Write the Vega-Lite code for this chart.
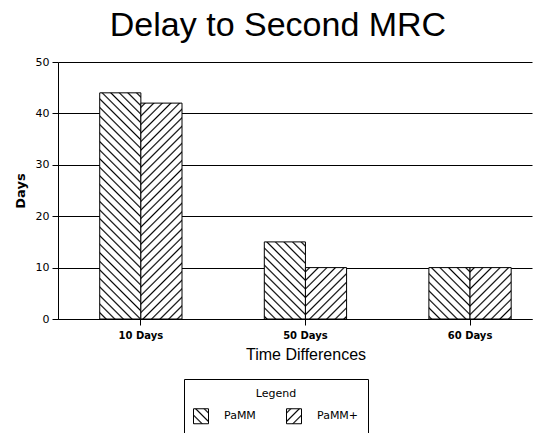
{
  "$schema": "https://vega.github.io/schema/vega-lite/v6.json",
  "autosize": {"type": "none"},
  "padding": {"left": 58, "top": 62, "right": 11, "bottom": 114},
  "width": 474,
  "height": 257,
  "background": "white",
  "title": {
    "text": "Delay to Second MRC",
    "font": "Liberation Sans",
    "fontSize": 34,
    "fontWeight": "normal",
    "color": "black",
    "anchor": "middle",
    "frame": "group",
    "dx": -17,
    "offset": 13
  },
  "params": [
    {
      "name": "stripes",
      "value": [
        {"offset": 0, "color": "#fff"},
        {"offset": 0.010, "color": "#fff"}, {"offset": 0.016, "color": "#000"}, {"offset": 0.022, "color": "#fff"},
        {"offset": 0.042, "color": "#fff"}, {"offset": 0.048, "color": "#000"}, {"offset": 0.054, "color": "#fff"},
        {"offset": 0.074, "color": "#fff"}, {"offset": 0.080, "color": "#000"}, {"offset": 0.086, "color": "#fff"},
        {"offset": 0.106, "color": "#fff"}, {"offset": 0.112, "color": "#000"}, {"offset": 0.118, "color": "#fff"},
        {"offset": 0.138, "color": "#fff"}, {"offset": 0.144, "color": "#000"}, {"offset": 0.150, "color": "#fff"},
        {"offset": 0.170, "color": "#fff"}, {"offset": 0.176, "color": "#000"}, {"offset": 0.182, "color": "#fff"},
        {"offset": 0.202, "color": "#fff"}, {"offset": 0.208, "color": "#000"}, {"offset": 0.214, "color": "#fff"},
        {"offset": 0.234, "color": "#fff"}, {"offset": 0.240, "color": "#000"}, {"offset": 0.246, "color": "#fff"},
        {"offset": 0.266, "color": "#fff"}, {"offset": 0.272, "color": "#000"}, {"offset": 0.278, "color": "#fff"},
        {"offset": 0.298, "color": "#fff"}, {"offset": 0.304, "color": "#000"}, {"offset": 0.310, "color": "#fff"},
        {"offset": 0.330, "color": "#fff"}, {"offset": 0.336, "color": "#000"}, {"offset": 0.342, "color": "#fff"},
        {"offset": 0.362, "color": "#fff"}, {"offset": 0.368, "color": "#000"}, {"offset": 0.374, "color": "#fff"},
        {"offset": 0.394, "color": "#fff"}, {"offset": 0.400, "color": "#000"}, {"offset": 0.406, "color": "#fff"},
        {"offset": 0.426, "color": "#fff"}, {"offset": 0.432, "color": "#000"}, {"offset": 0.438, "color": "#fff"},
        {"offset": 0.458, "color": "#fff"}, {"offset": 0.464, "color": "#000"}, {"offset": 0.470, "color": "#fff"},
        {"offset": 0.490, "color": "#fff"}, {"offset": 0.496, "color": "#000"}, {"offset": 0.502, "color": "#fff"},
        {"offset": 0.522, "color": "#fff"}, {"offset": 0.528, "color": "#000"}, {"offset": 0.534, "color": "#fff"},
        {"offset": 0.554, "color": "#fff"}, {"offset": 0.560, "color": "#000"}, {"offset": 0.566, "color": "#fff"},
        {"offset": 0.586, "color": "#fff"}, {"offset": 0.592, "color": "#000"}, {"offset": 0.598, "color": "#fff"},
        {"offset": 0.618, "color": "#fff"}, {"offset": 0.624, "color": "#000"}, {"offset": 0.630, "color": "#fff"},
        {"offset": 0.650, "color": "#fff"}, {"offset": 0.656, "color": "#000"}, {"offset": 0.662, "color": "#fff"},
        {"offset": 0.682, "color": "#fff"}, {"offset": 0.688, "color": "#000"}, {"offset": 0.694, "color": "#fff"},
        {"offset": 0.714, "color": "#fff"}, {"offset": 0.720, "color": "#000"}, {"offset": 0.726, "color": "#fff"},
        {"offset": 0.746, "color": "#fff"}, {"offset": 0.752, "color": "#000"}, {"offset": 0.758, "color": "#fff"},
        {"offset": 0.778, "color": "#fff"}, {"offset": 0.784, "color": "#000"}, {"offset": 0.790, "color": "#fff"},
        {"offset": 0.810, "color": "#fff"}, {"offset": 0.816, "color": "#000"}, {"offset": 0.822, "color": "#fff"},
        {"offset": 0.842, "color": "#fff"}, {"offset": 0.848, "color": "#000"}, {"offset": 0.854, "color": "#fff"},
        {"offset": 0.874, "color": "#fff"}, {"offset": 0.880, "color": "#000"}, {"offset": 0.886, "color": "#fff"},
        {"offset": 0.906, "color": "#fff"}, {"offset": 0.912, "color": "#000"}, {"offset": 0.918, "color": "#fff"},
        {"offset": 0.938, "color": "#fff"}, {"offset": 0.944, "color": "#000"}, {"offset": 0.950, "color": "#fff"},
        {"offset": 0.970, "color": "#fff"}, {"offset": 0.976, "color": "#000"}, {"offset": 0.982, "color": "#fff"},
        {"offset": 1, "color": "#fff"}
      ]
    }
  ],
  "data": {
    "values": [
      {"category": "10 Days", "series": "PaMM", "days": 44},
      {"category": "10 Days", "series": "PaMM+", "days": 42},
      {"category": "50 Days", "series": "PaMM", "days": 15},
      {"category": "50 Days", "series": "PaMM+", "days": 10},
      {"category": "60 Days", "series": "PaMM", "days": 10},
      {"category": "60 Days", "series": "PaMM+", "days": 10}
    ]
  },
  "mark": {
    "type": "bar",
    "strokeWidth": 1,
    "fill": {"expr": "datum.series === 'PaMM' ? {gradient: 'linear', stops: stripes, x1: 1, y1: 0, x2: (datum.days > 40 ? 0.7927 : (datum.days > 12 ? -0.4367 : -1.534)), y2: (datum.days > 40 ? 1.1437 : (datum.days > 12 ? 2.7017 : 3.177))} : datum.series === 'PaMM+' ? {gradient: 'linear', stops: stripes, x1: 0, y1: 0, x2: (datum.days > 40 ? 0.2268 : 2.534), y2: (datum.days > 40 ? 1.1946 : 3.177)} : datum.value === 'PaMM' ? {gradient: 'linear', stops: stripes, x1: 1, y1: 0, x2: -7.9, y2: 8.9} : {gradient: 'linear', stops: stripes, x1: 0, y1: 0, x2: 8.9, y2: 8.9}"}
  },
  "encoding": {
    "x": {
      "field": "category",
      "type": "nominal",
      "sort": null,
      "scale": {"paddingInner": 0.5, "paddingOuter": 0.19, "align": 0.667},
      "axis": {
        "labelAngle": 0,
        "title": "Time Differences",
        "titleX": 247.5,
        "titleAlign": "center",
        "domainColor": "black",
        "tickColor": "black",
        "tickSize": 6,
        "labelFont": "DejaVu Sans",
        "labelFontWeight": "bold",
        "labelFontSize": 10,
        "labelColor": "black",
        "labelPadding": 5,
        "titleFont": "Liberation Sans",
        "titleFontSize": 16,
        "titleFontWeight": "normal",
        "titleColor": "black",
        "titlePadding": 6,
        "grid": false
      }
    },
    "xOffset": {
      "field": "series",
      "type": "nominal",
      "sort": ["PaMM", "PaMM+"],
      "scale": {"paddingInner": 0, "paddingOuter": 0}
    },
    "y": {
      "field": "days",
      "type": "quantitative",
      "scale": {"domain": [0, 50], "nice": false},
      "axis": {
        "values": [0, 10, 20, 30, 40, 50],
        "title": "Days",
        "grid": true,
        "gridColor": "black",
        "gridOpacity": 1,
        "gridWidth": 1,
        "domainColor": "black",
        "tickColor": "black",
        "tickSize": 6,
        "labelFont": "DejaVu Sans",
        "labelFontSize": 11,
        "labelColor": "black",
        "labelPadding": 3,
        "titleFont": "DejaVu Sans",
        "titleFontSize": 13,
        "titleFontWeight": "bold",
        "titleColor": "black",
        "titlePadding": 8
      }
    },
    "stroke": {
      "field": "series",
      "type": "nominal",
      "sort": ["PaMM", "PaMM+"],
      "scale": {"range": ["black", "black"]},
      "legend": {
        "title": "Legend",
        "orient": "none",
        "legendX": 126,
        "legendY": 317,
        "direction": "horizontal",
        "titleAnchor": "middle",
        "titleFont": "DejaVu Sans",
        "titleFontSize": 11,
        "titleFontWeight": "normal",
        "titleColor": "black",
        "titlePadding": 9,
        "labelFont": "DejaVu Sans",
        "labelFontSize": 11,
        "labelColor": "black",
        "labelOffset": 15,
        "symbolType": "square",
        "symbolSize": 225,
        "symbolStrokeWidth": 1,
        "columnPadding": 28,
        "padding": 9,
        "strokeColor": "black",
        "fillColor": "white"
      }
    }
  },
  "config": {
    "view": {"stroke": null},
    "font": "DejaVu Sans"
  }
}
